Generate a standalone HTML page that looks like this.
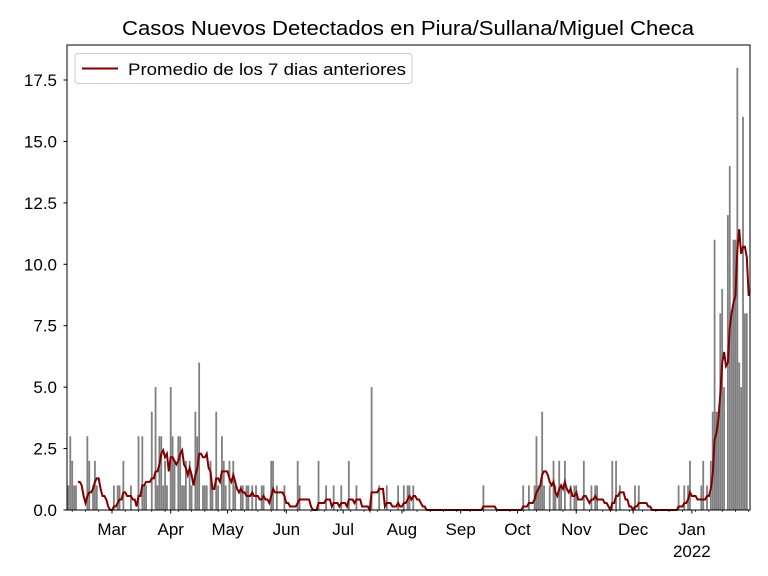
<!DOCTYPE html>
<html><head><meta charset="utf-8"><style>
html,body{margin:0;padding:0;background:#fff;}
svg{display:block;font-family:"Liberation Sans","DejaVu Sans",sans-serif;}
</style></head><body>
<svg id="s" width="768" height="576" xmlns="http://www.w3.org/2000/svg"></svg>
<script>
const s=document.getElementById('s');
const L=67,R=750,T=45,B=510;
const pxd=1.895, x0=68.4;
const Y=v=>B-v*24.571;
const X=d=>x0+d*pxd;
const pts=[[68,1],[70,3],[72,2],[74,1],[76,1],[87,3],[89,2],[93,1],[95,2],[97,1],[114,1],[117,1],[119,1],[124,2],[130,1],[138,3],[142,3],[144,1],[146,1],[151,4],[155,5],[157,1],[159,3],[161,3],[163,1],[165,2],[167,1],[170,5],[172,3],[174,2],[178,3],[180,3],[182,1],[184,1],[186,2],[190,2],[192,1],[196,4],[198,3],[200,6],[202,1],[204,1],[207,1],[210,2],[212,1],[217,4],[219,1],[222,3],[224,2],[226,1],[230,2],[233,2],[236,1],[240,1],[243,1],[247,1],[249,1],[252,1],[256,1],[261,1],[263,1],[271,2],[274,2],[276,1],[284,1],[297,2],[299,1],[318,2],[326,1],[333,1],[341,1],[348,2],[356,1],[371,5],[379,1],[387,1],[398,1],[404,1],[407,1],[409,1],[414,1],[484,1],[523,1],[529,1],[534,1],[536,3],[538,1],[540,1],[542,4],[544,1],[550,1],[554,2],[556,1],[559,2],[562,1],[565,2],[570,1],[574,1],[576,1],[584,2],[592,1],[595,1],[597,1],[612,2],[616,2],[620,1],[635,1],[639,1],[678,1],[685,1],[688,1],[690,2],[702,1],[704,2],[707,1],[711,2],[713,4],[715,11],[717,4],[719,4],[721,8],[723,9],[725,5],[727,12],[729,14],[731,8],[733,11],[735,11],[737,18],[739,6],[741,5],[743,16],[745,8],[747,8]];
const N=360,v=new Array(N).fill(0);
pts.forEach(([x,val])=>{const d=Math.round((x-x0)/pxd);if(d>=0&&d<N)v[d]=val;});
let h='';
h+=`<text x="408" y="35" font-size="20" text-anchor="middle" textLength="572" lengthAdjust="spacingAndGlyphs">Casos Nuevos Detectados en Piura/Sullana/Miguel Checa</text>`;
for(let d=0;d<N;d++){if(v[d]>0&&X(d)<R){h+=`<rect x="${(X(d)-0.9).toFixed(2)}" y="${Y(v[d]).toFixed(2)}" width="1.8" height="${(v[d]*24.571).toFixed(2)}" fill="#808080"/>`;}}
let p=[];
for(let d=5;d<N;d++){let a=0;for(let k=d-6;k<=d;k++)a+=(k>=0?v[k]:0);a/=7;if(X(d)<=R)p.push(X(d).toFixed(1)+','+Y(a).toFixed(1));}
h+=`<polyline points="${p.join(' ')}" fill="none" stroke="#800000" stroke-width="2"/>`;
h+=`<rect x="${L}" y="${T}" width="${R-L}" height="${B-T}" fill="none" stroke="#000" stroke-width="1"/>`;
for(let i=0;i<=7;i++){const val=i*2.5,y=Y(val);h+=`<line x1="${L-3.5}" x2="${L}" y1="${y}" y2="${y}" stroke="#000"/><text x="${L-10}" y="${y+6}" font-size="17" text-anchor="end">${val.toFixed(1)}</text>`;}
const months=[[23,'Mar'],[54,'Apr'],[84,'May'],[115,'Jun'],[145,'Jul'],[176,'Aug'],[207,'Sep'],[237,'Oct'],[268,'Nov'],[298,'Dec'],[329,'Jan']];
for(let d=2;d<N;d+=7){const x=X(d);if(x<R)h+=`<line x1="${x}" x2="${x}" y1="${B}" y2="${B+2}" stroke="#000" stroke-width="0.7"/>`;}
months.forEach(([d,m])=>{const x=X(d);h+=`<line x1="${x}" x2="${x}" y1="${B}" y2="${B+3.5}" stroke="#000"/><text x="${x}" y="${B+25}" font-size="17" text-anchor="middle">${m}</text>`;});
h+=`<text x="${X(329)}" y="${B+47}" font-size="17" text-anchor="middle">2022</text>`;
h+=`<rect x="75" y="53.5" width="337" height="30" rx="3" fill="#fff" fill-opacity="0.8" stroke="#ccc"/>`;
h+=`<line x1="82" x2="118" y1="68.5" y2="68.5" stroke="#800000" stroke-width="2"/>`;
h+=`<text x="128" y="75" font-size="17" textLength="278" lengthAdjust="spacingAndGlyphs">Promedio de los 7 dias anteriores</text>`;
s.innerHTML=h;
</script>
</body></html>
